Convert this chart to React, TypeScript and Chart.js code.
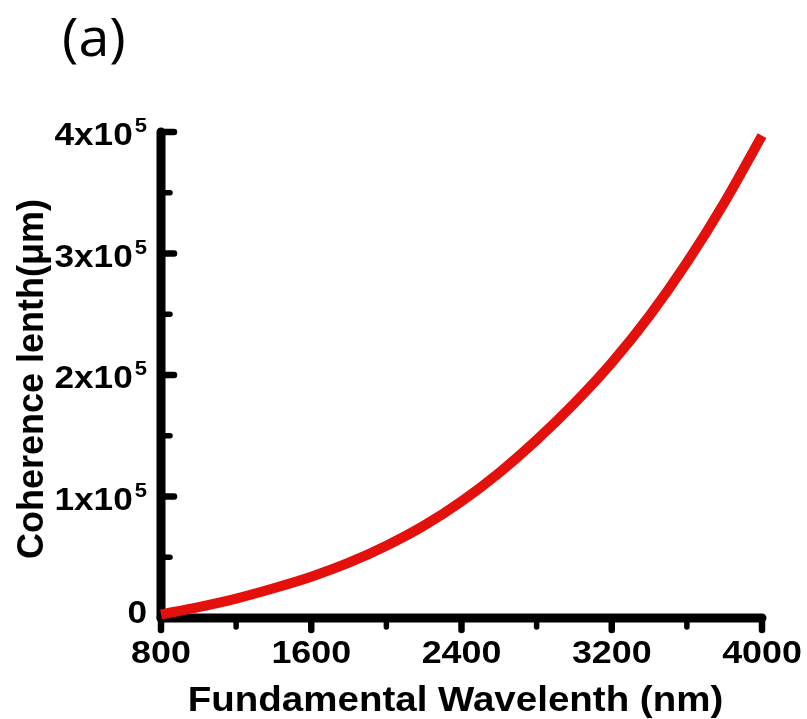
import { useEffect, useRef } from "react";
import { Chart, registerables } from "chart.js";

Chart.register(...registerables);

// ---- Data ----
const wavelengths = [800, 1000, 1200, 1400, 1600, 1800, 2000, 2200, 2400, 2600, 2800, 3000, 3200, 3400, 3600, 3800, 4000];
const coherence = [3000, 9000, 16000, 24500, 34000, 45500, 59500, 76000, 96000, 119500, 146500, 176500, 210000, 248500, 292500, 342000, 397000];

const xMajorTicks = [800, 1600, 2400, 3200, 4000];
const xMinorTicks = [1200, 2000, 2800, 3600];
const xTickLabels = ["800", "1600", "2400", "3200", "4000"];
const yMajorTicks = [0, 100000, 200000, 300000, 400000];
const yMinorTicks = [50000, 150000, 250000, 350000];
const yTickMantissa = ["0", "1x10", "2x10", "3x10", "4x10"];
const yTickExponent = ["", "5", "5", "5", "5"];

const xTitle = "Fundamental Wavelenth (nm)";
const yTitle = "Coherence lenth(\u03BCm)";
const panelLabel = "(a)";

const FONT = '"Liberation Sans", Arial, sans-serif';

function drawText(ctx: CanvasRenderingContext2D, text: string, x: number, y: number, font: string, align: CanvasTextAlign, sx: number) {
  ctx.save();
  ctx.translate(x, y);
  ctx.scale(sx, 1);
  ctx.font = font;
  ctx.textAlign = align;
  ctx.textBaseline = "alphabetic";
  ctx.fillStyle = "#000";
  ctx.fillText(text, 0, 0);
  ctx.restore();
}

const axesPlugin = {
  id: "customAxes",
  beforeDatasetsDraw(chart: any) {
    const { ctx, chartArea, scales } = chart;
    const xs = scales.x;
    const ys = scales.y;
    const x0 = xs.getPixelForValue(xMajorTicks[0]);
    const xEnd = xs.getPixelForValue(xMajorTicks[xMajorTicks.length - 1]);
    const y0 = ys.getPixelForValue(yMajorTicks[0]);
    const yTop = ys.getPixelForValue(yMajorTicks[yMajorTicks.length - 1]);

    ctx.save();
    ctx.strokeStyle = "#000";
    ctx.lineCap = "round";

    // x ticks (outward, downward)
    ctx.lineWidth = 6.5;
    xMajorTicks.forEach((v) => {
      const px = xs.getPixelForValue(v);
      ctx.beginPath();
      ctx.moveTo(px, y0);
      ctx.lineTo(px, y0 + 12);
      ctx.stroke();
    });
    ctx.lineWidth = 5.5;
    xMinorTicks.forEach((v) => {
      const px = xs.getPixelForValue(v);
      ctx.beginPath();
      ctx.moveTo(px, y0);
      ctx.lineTo(px, y0 + 9);
      ctx.stroke();
    });

    // y ticks (inward, to the right)
    ctx.lineWidth = 6.5;
    yMajorTicks.forEach((v) => {
      if (v === 0) return;
      const py = ys.getPixelForValue(v);
      ctx.beginPath();
      ctx.moveTo(x0, py);
      ctx.lineTo(x0 + 13, py);
      ctx.stroke();
    });
    ctx.lineWidth = 5.5;
    yMinorTicks.forEach((v) => {
      const py = ys.getPixelForValue(v);
      ctx.beginPath();
      ctx.moveTo(x0, py);
      ctx.lineTo(x0 + 9, py);
      ctx.stroke();
    });

    // axis lines
    ctx.lineWidth = 9;
    ctx.beginPath();
    ctx.moveTo(x0, y0);
    ctx.lineTo(x0, yTop);
    ctx.stroke();
    ctx.beginPath();
    ctx.moveTo(x0, y0);
    ctx.lineTo(xEnd, y0);
    ctx.stroke();

    // x tick labels
    xMajorTicks.forEach((v, i) => {
      const px = xs.getPixelForValue(v);
      drawText(ctx, xTickLabels[i], px, y0 + 45, `bold 32px ${FONT}`, "center", 1.12);
    });

    // y tick labels with superscript exponents
    const right = x0 - 14;
    yMajorTicks.forEach((v, i) => {
      const py = ys.getPixelForValue(v);
      const exp = yTickExponent[i];
      if (exp) {
        ctx.font = `bold 21px ${FONT}`;
        const w = ctx.measureText(exp).width * 1.05;
        drawText(ctx, exp, right - w, py, `bold 21px ${FONT}`, "left", 1.05);
        drawText(ctx, yTickMantissa[i], right - w - 2, py + 13, `bold 32px ${FONT}`, "right", 1.1);
      } else {
        drawText(ctx, yTickMantissa[i], right, py + 5, `bold 32px ${FONT}`, "right", 1.1);
      }
    });

    // x title
    const cx = (chartArea.left + chartArea.right) / 2 - 6;
    drawText(ctx, xTitle, cx, y0 + 93, `bold 35px ${FONT}`, "center", 1.1);

    // y title (rotated)
    ctx.save();
    ctx.translate(43, (chartArea.top + chartArea.bottom) / 2 + 4);
    ctx.rotate(-Math.PI / 2);
    ctx.font = `bold 36px ${FONT}`;
    ctx.textAlign = "center";
    ctx.textBaseline = "alphabetic";
    ctx.fillStyle = "#000";
    ctx.fillText(yTitle, 0, 0);
    ctx.restore();

    // panel label
    drawText(ctx, panelLabel, 62, 56, `53px "Open Sans", sans-serif`, "left", 1.05);

    ctx.restore();
  },
};

export default function App() {
  const canvasRef = useRef<HTMLCanvasElement | null>(null);

  useEffect(() => {
    const canvas = canvasRef.current;
    if (!canvas) return;
    const chart = new Chart(canvas, {
      type: "line",
      data: {
        datasets: [
          {
            data: wavelengths.map((w, i) => ({ x: w, y: coherence[i] })),
            borderColor: "#e4100c",
            borderWidth: 10,
            borderCapStyle: "butt",
            pointRadius: 0,
            cubicInterpolationMode: "monotone",
            clip: false,
          } as any,
        ],
      },
      options: {
        animation: false,
        responsive: false,
        devicePixelRatio: 1,
        layout: { padding: { left: 161, right: 45, top: 132, bottom: 101 } },
        plugins: { legend: { display: false }, tooltip: { enabled: false } },
        scales: {
          x: { type: "linear", min: 800, max: 4000, display: false },
          y: { type: "linear", min: 0, max: 400000, display: false },
        },
      },
      plugins: [axesPlugin],
    });
    return () => chart.destroy();
  }, []);

  return (
    <canvas
      ref={canvasRef}
      width={807}
      height={719}
      style={{ position: "absolute", left: 0, top: 0, display: "block", background: "#fff" }}
    />
  );
}
